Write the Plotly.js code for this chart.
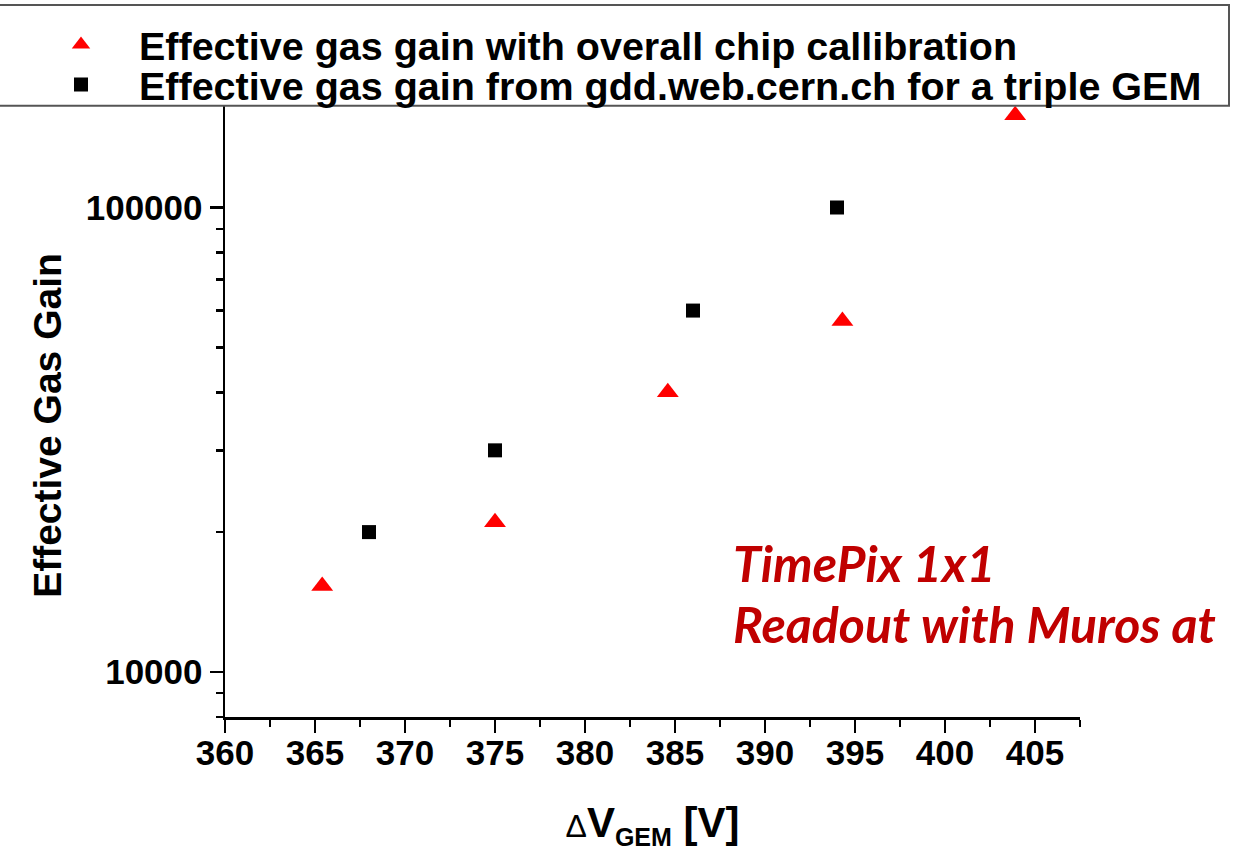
<!DOCTYPE html>
<html>
<head>
<meta charset="utf-8">
<script src="https://cdn.plot.ly/plotly-3.0.1.min.js"></script>
<style>
  html, body { margin: 0; padding: 0; background: #ffffff; }
  #chart { width: 1239px; height: 851px; }
</style>
</head>
<body>
<div id="chart"></div>
<script>
// GEM voltage (V) and effective gas gain for the two data sets
const chipVoltage = [365.4, 375.0, 384.6, 394.3, 403.9];
const chipGain    = [15300, 21000, 40000, 57000, 158000];
const gddVoltage  = [368, 375, 386, 394];
const gddGain     = [20000, 30000, 60000, 100000];

const chipName = 'Effective gas gain with overall chip callibration';
const gddName  = 'Effective gas gain from gdd.web.cern.ch for a triple GEM';

const yMajorTicks = [10000, 100000];
const yMajorText  = ['10000', '100000'];

// Frame in pixels: the paper reaches almost to the top so the legends sit inside it,
// while the y domain keeps the plot area below the legend box.
const W = 1239, H = 851;
const M = { l: 225, r: 159, t: 12, b: 134 };
const plotTop = 100;
const plotW = W - M.l - M.r;
const paperH = H - M.t - M.b;
const px2x = p => (p - M.l) / plotW;
const px2y = p => (H - M.b - p) / paperH;

// minor ticks at 2..9 of each decade
const yMinorTicks = [];
[1000, 10000, 100000].forEach(d => {
  for (let k = 2; k <= 9; k++) yMinorTicks.push(k * d);
});

const baseFont = 'Liberation Sans, Arial, Helvetica, sans-serif';

const traces = [
  {
    x: chipVoltage, y: chipGain, name: chipName,
    type: 'scatter', mode: 'markers',
    marker: { symbol: 'triangle-up', size: 19, color: '#ff0000' },
    legend: 'legend'
  },
  {
    x: gddVoltage, y: gddGain, name: gddName,
    type: 'scatter', mode: 'markers',
    marker: { symbol: 'square', size: 14, color: '#000000' },
    legend: 'legend2'
  }
];

const legendFont = { family: baseFont, size: 39.5, weight: 'bold', color: '#000000' };

const layout = {
  width: W, height: H,
  margin: M,
  paper_bgcolor: '#ffffff',
  plot_bgcolor: '#ffffff',
  font: { family: baseFont, color: '#000000' },
  showlegend: true,
  legend: {
    x: px2x(23), y: px2y(43), xanchor: 'left', yanchor: 'middle',
    bgcolor: 'rgba(0,0,0,0)', borderwidth: 0, font: legendFont,
    itemwidth: 106
  },
  legend2: {
    x: px2x(23), y: px2y(83), xanchor: 'left', yanchor: 'middle',
    bgcolor: 'rgba(0,0,0,0)', borderwidth: 0, font: legendFont,
    itemwidth: 106
  },
  xaxis: {
    range: [360, 407.5],
    tickmode: 'linear', tick0: 360, dtick: 5,
    ticks: 'outside', ticklen: 13, tickwidth: 2.5, tickcolor: '#000',
    minor: { tick0: 360, dtick: 2.5, ticks: 'outside', ticklen: 7, tickwidth: 2.5, tickcolor: '#000' },
    showline: true, linewidth: 2.5, linecolor: '#000',
    showgrid: false, zeroline: false,
    tickfont: { family: baseFont, size: 35, weight: 'bold' },
    ticklabelstandoff: -10,
    title: {
      text: '<span style="font-size:32px;font-weight:normal">Δ</span><b>V<sub><span style="font-size:25px">GEM</span></sub> [V]</b>',
      font: { family: baseFont, size: 42, color: '#000' },
      standoff: 44
    }
  },
  yaxis: {
    type: 'log',
    domain: [0, px2y(plotTop)],
    range: [3.9028, 5.2279],
    tickmode: 'array', tickvals: yMajorTicks, ticktext: yMajorText,
    ticks: 'outside', ticklen: 13, tickwidth: 2.5, tickcolor: '#000',
    minor: { tickmode: 'array', tickvals: yMinorTicks, ticks: 'outside', ticklen: 7, tickwidth: 2.5, tickcolor: '#000' },
    showline: true, linewidth: 2.5, linecolor: '#000',
    showgrid: false, zeroline: false,
    tickfont: { family: baseFont, size: 35, weight: 'bold' }
  },
  shapes: [
    {
      type: 'rect', xref: 'paper', yref: 'paper', layer: 'above',
      x0: px2x(-5), x1: px2x(1229), y0: px2y(104), y1: px2y(3),
      fillcolor: '#ffffff', line: { color: '#555555', width: 2 }
    }
  ],
  annotations: [
    {
      text: '<b>Effective Gas Gain</b>', textangle: -90,
      xref: 'paper', yref: 'paper', x: px2x(48), y: px2y(425),
      xanchor: 'center', yanchor: 'middle', showarrow: false,
      font: { family: baseFont, size: 39, color: '#000' }
    },
    {
      text: 'TimePix 1x1',
      xref: 'paper', yref: 'paper', x: px2x(731), y: px2y(563),
      xanchor: 'left', yanchor: 'middle', showarrow: false,
      font: { family: 'Lato, Open Sans, sans-serif', size: 50, weight: 'bold', style: 'italic', color: '#c00000' }
    },
    {
      text: 'Readout with Muros at',
      xref: 'paper', yref: 'paper', x: px2x(731), y: px2y(624),
      xanchor: 'left', yanchor: 'middle', showarrow: false,
      font: { family: 'Lato, Open Sans, sans-serif', size: 50, weight: 'bold', style: 'italic', color: '#c00000' }
    }
  ]
};

Plotly.newPlot('chart', traces, layout, { displayModeBar: false, staticPlot: true });
</script>
</body>
</html>
